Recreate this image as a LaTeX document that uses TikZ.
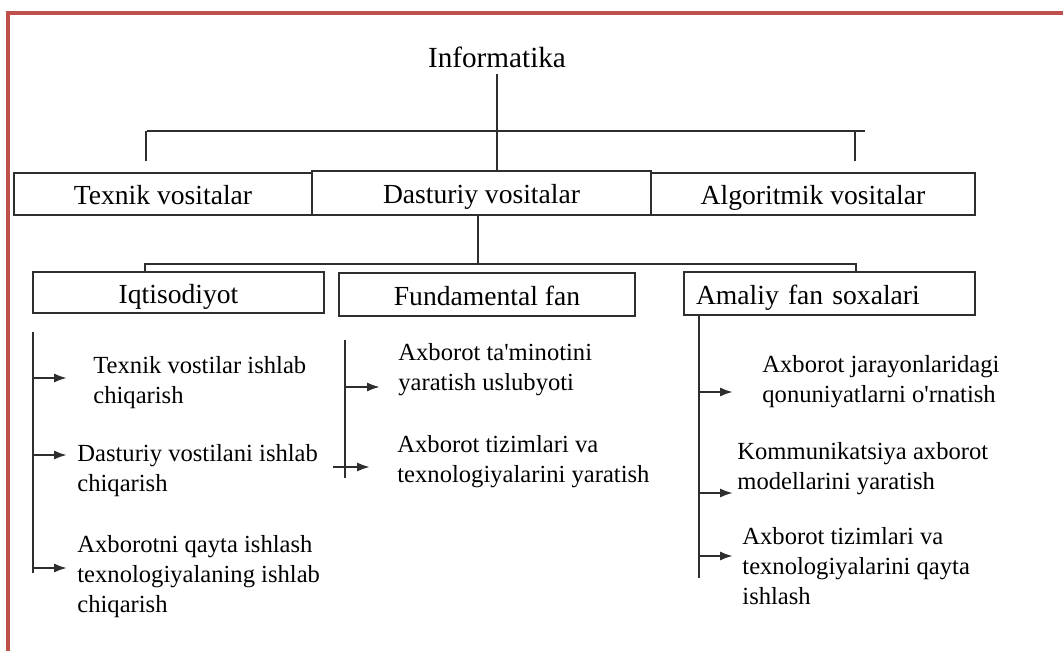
\documentclass[tikz,border=0pt]{standalone}
\usepackage{fontspec}
\setmainfont{Liberation Serif}
\definecolor{framered}{HTML}{C0504D}
\definecolor{ink}{HTML}{2E2E2E}
\usetikzlibrary{arrows.meta, positioning}

\begin{document}
\begin{tikzpicture}[
  x=0.5pt, y=-0.5pt,
  line/.style={draw=ink, line width=1.15pt},
  box/.style={line, fill=white, inner sep=0pt, text height=11.5pt, text depth=0.5pt,
              font=\fontsize{13.8}{16}\selectfont},
  leaf/.style={anchor=west, align=left, inner sep=0pt, font=\fontsize{12.3}{15}\selectfont},
  tip/.style={line, -{Latex[length=6.5pt, width=4.6pt]}},
]
\useasboundingbox (0,0) rectangle (1063,651);
\draw[framered, line width=1.6pt] (8,651) -- (8,13) -- (1063,13);

% top level
\node[font=\fontsize{14.6}{17}\selectfont, inner sep=3pt] (inf) at (497,57) {Informatika};
\node[box, minimum width=149pt, minimum height=21pt] (tex) at (163,194) {Texnik vositalar};
\node[box, minimum width=162pt, minimum height=21pt] (alg) at (813,194) {Algoritmik vositalar};
\node[box, minimum width=169.5pt, minimum height=22pt] (das) at (481.5,193) {Dasturiy vositalar};

\coordinate (bus1L) at (147,131);
\coordinate (bus1R) at (865,131);
\coordinate (tickL) at (146,161);
\coordinate (tickR) at (855,161);
\draw[line] (inf.south) -- (inf.south |- das.north);
\draw[line] (bus1L) -- (bus1R);
\draw[line] (tickL |- bus1L) -- (tickL);
\draw[line] (tickR |- bus1L) -- (tickR);

% second level
\node[box, minimum width=145.5pt, minimum height=20.5pt] (iqt) at (178.5,292.5) {Iqtisodiyot};
\node[box, minimum width=148pt, minimum height=21.5pt] (fun) at (487,294.5) {Fundamental fan};
\node[box, text width=133.5pt, inner xsep=6pt, align=left, minimum height=21.5pt] (ama) at (829.5,293.5) {Amaliy fan soxalari};

\coordinate (bus2) at (478,264);
\coordinate (bus2L) at (145,264);
\coordinate (bus2R) at (856,264);
\draw[line] (bus2 |- das.south) -- (bus2);
\draw[line] (bus2L |- iqt.north) -- (bus2L) -- (bus2R) -- (bus2R |- ama.north);

% leaves
\node[leaf] (t1) at (93,383) {Texnik vostilar ishlab\\chiqarish};
\node[leaf] (t2) at (77,471) {Dasturiy vostilani ishlab\\chiqarish};
\node[leaf] (t3) at (77,577) {Axborotni qayta ishlash\\texnologiyalaning ishlab\\chiqarish};
\node[leaf] (m1) at (398,370) {Axborot ta\textquotesingle minotini\\yaratish uslubyoti};
\node[leaf] (m2) at (397,462) {Axborot tizimlari va\\texnologiyalarini yaratish};
\node[leaf] (r1) at (762,382) {Axborot jarayonlaridagi\\qonuniyatlarni o\textquotesingle rnatish};
\node[leaf] (r2) at (737,469) {Kommunikatsiya axborot\\modellarini yaratish};
\node[leaf] (r3) at (742,566) {Axborot tizimlari va\\texnologiyalarini qayta\\ishlash};

% left branch
\coordinate (spLtop) at (33,332);
\coordinate (spLbot) at (33,573);
\coordinate (aL1) at (67,378);
\coordinate (aL2) at (67,455);
\coordinate (aL3) at (67,568);
\draw[line] (spLtop) -- (spLbot);
\draw[tip] (spLtop |- aL1) -- (aL1);
\draw[tip] (spLtop |- aL2) -- (aL2);
\draw[tip] (spLtop |- aL3) -- (aL3);

% middle branch
\coordinate (spMtop) at (345,340);
\coordinate (spMbot) at (345,478);
\coordinate (aM1) at (380,387);
\coordinate (sM2) at (333,467);
\coordinate (aM2) at (370,467);
\draw[line] (spMtop) -- (spMbot);
\draw[tip] (spMtop |- aM1) -- (aM1);
\draw[tip] (sM2) -- (aM2);

% right branch
\coordinate (spRbot) at (699,578);
\coordinate (aR1) at (733,392);
\coordinate (aR2) at (733,493);
\coordinate (aR3) at (733,556);
\draw[line] (spRbot |- ama.south) -- (spRbot);
\draw[tip] (spRbot |- aR1) -- (aR1);
\draw[tip] (spRbot |- aR2) -- (aR2);
\draw[tip] (spRbot |- aR3) -- (aR3);
\end{tikzpicture}
\end{document}
